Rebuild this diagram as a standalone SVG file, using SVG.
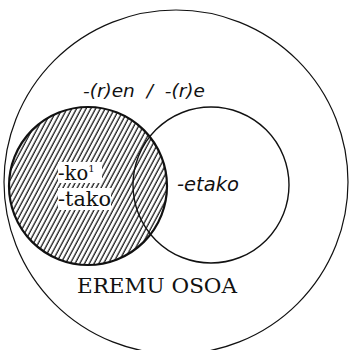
<svg xmlns="http://www.w3.org/2000/svg" width="349" height="350" viewBox="0 0 349 350">
<style>
.c{fill:none;stroke:#111}
.it{font-family:"DejaVu Sans","Liberation Sans",sans-serif;font-style:italic;fill:#111}
.sr{font-family:"DejaVu Serif","Liberation Serif",serif;fill:#111}
</style>
<defs>
<pattern id="hatch" patternUnits="userSpaceOnUse" width="4.2" height="10" patternTransform="rotate(28)">
<line x1="1" y1="0" x2="1" y2="10" stroke="#000" stroke-width="1.15"/>
</pattern>
</defs>
<rect width="349" height="350" fill="#fff"/>
<g id="outer"><circle class="c" cx="176" cy="182" r="172" stroke-width="1.2"/></g>
<g id="left">
<circle cx="88" cy="186" r="79" fill="url(#hatch)"/>
<rect x="58" y="162" width="44" height="21" fill="#fff"/>
<rect x="58" y="188" width="53" height="22" fill="#fff"/>
<circle class="c" cx="88" cy="186" r="79" stroke-width="2.2"/>
</g>
<g id="right"><circle class="c" cx="211" cy="185" r="78" stroke-width="1.4"/></g>
<g id="labels">
<text class="it" x="83" y="97" font-size="18.5" word-spacing="6">-(r)en / -(r)e</text>
<text class="sr" x="58" y="180" font-size="19.5">-ko<tspan font-size="10" dy="-8">1</tspan></text>
<text class="sr" x="58" y="206" font-size="19.5" textLength="53" lengthAdjust="spacingAndGlyphs">-tako</text>
<text class="it" x="177" y="191" font-size="19.5">-etako</text>
<text class="sr" x="77" y="293" font-size="20.5" textLength="160" lengthAdjust="spacingAndGlyphs">EREMU OSOA</text>
</g>
</svg>
